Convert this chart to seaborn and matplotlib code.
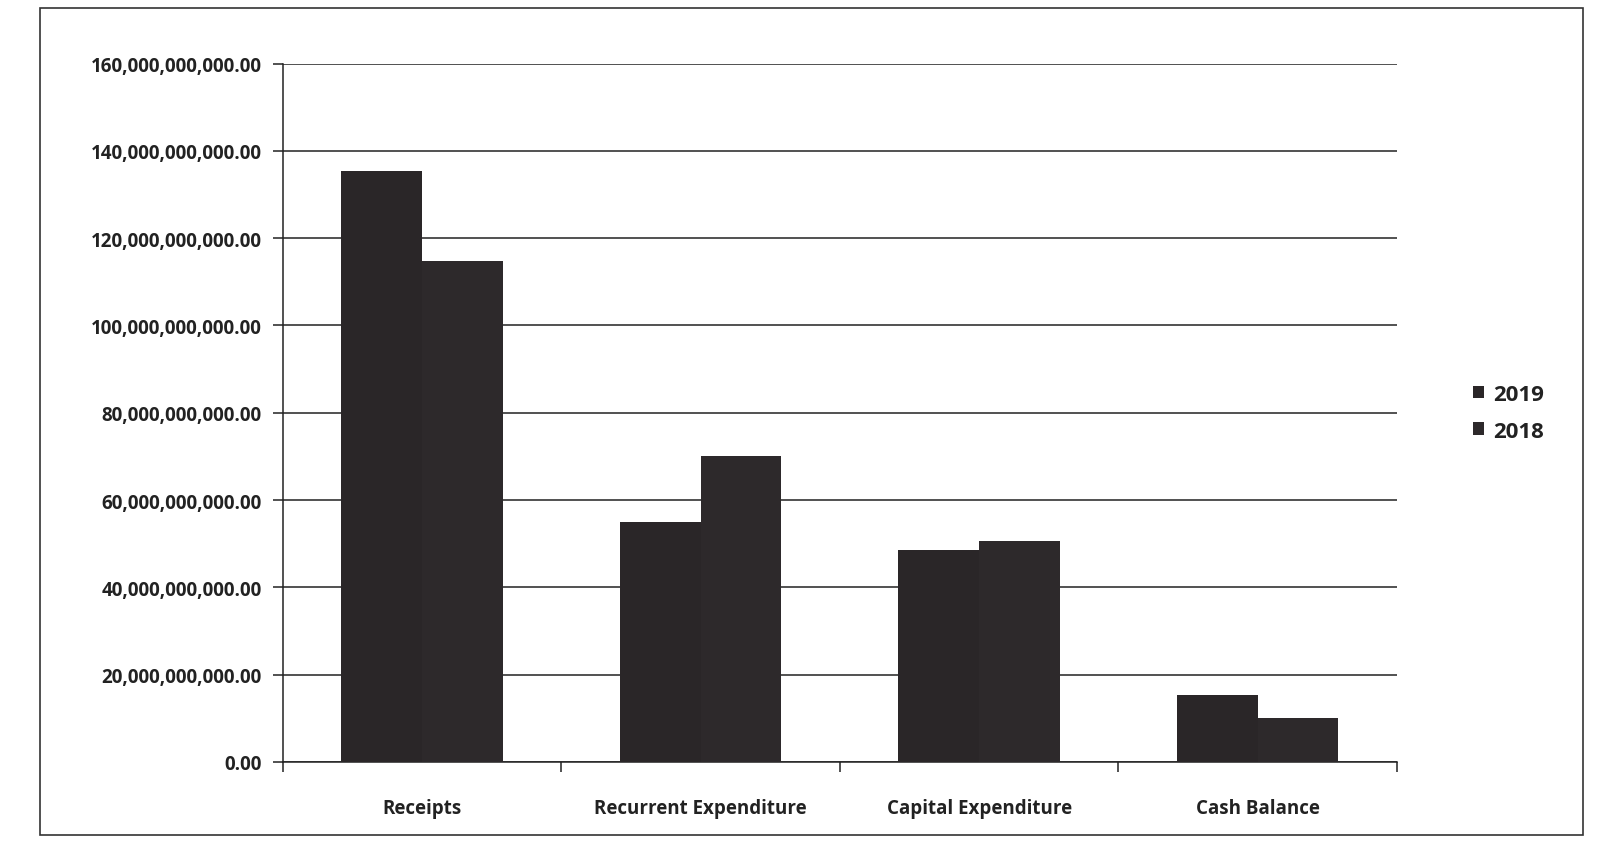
import matplotlib
matplotlib.use("Agg")
import matplotlib.pyplot as plt
import matplotlib.ticker as mticker
from matplotlib.patches import Rectangle
import seaborn as sns
import pandas as pd

categories = ["Receipts", "Recurrent Expenditure", "Capital Expenditure", "Cash Balance"]
values_2019 = [135.5e9, 55.0e9, 48.5e9, 15.3e9]
values_2018 = [114.7e9, 70.0e9, 50.7e9, 10.0e9]
series = ["2019", "2018"]
yticks = [0, 20e9, 40e9, 60e9, 80e9, 100e9, 120e9, 140e9, 160e9]

df = pd.DataFrame({
    "Category": categories * 2,
    "Value": values_2019 + values_2018,
    "Year": [series[0]] * len(categories) + [series[1]] * len(categories),
})

sns.set_theme(style="white")
plt.rcParams["font.family"] = ["Open Sans", "DejaVu Sans"]

fig = plt.figure(figsize=(16.15, 8.62), dpi=100)
ax = fig.add_axes([0.175, 0.115, 0.69, 0.81])

palette = {"2019": "#2a2628", "2018": "#2d292b"}
sns.barplot(data=df, x="Category", y="Value", hue="Year", hue_order=series,
            palette=palette, width=0.58, gap=0, saturation=1, ax=ax,
            edgecolor="none", linewidth=0, zorder=3)

ax.set_ylim(0, 160e9)
ax.set_yticks(yticks)
ax.yaxis.set_major_formatter(mticker.FuncFormatter(lambda v, p: f"{v:,.2f}"))
ax.grid(axis="y", color="#222222", linewidth=1.1, zorder=0)
ax.set_xlabel("")
ax.set_ylabel("")

for s in ["top", "right"]:
    ax.spines[s].set_visible(False)
for s in ["left", "bottom"]:
    ax.spines[s].set_color("#222222")
    ax.spines[s].set_linewidth(1.1)

ax.tick_params(axis="y", which="major", left=True, length=7, width=1.1,
               color="#222222", labelsize=13.5, pad=8)
ax.tick_params(axis="x", which="major", bottom=False, labelsize=13.5, pad=20)
ax.set_xticks([-0.5, 0.5, 1.5, 2.5, 3.5], minor=True)
ax.tick_params(axis="x", which="minor", bottom=True, length=7, width=1.1, color="#222222")
ax.set_xlim(-0.5, 3.5)
for lbl in ax.get_yticklabels() + ax.get_xticklabels():
    lbl.set_fontweight("bold")
    lbl.set_color("#222222")

leg = ax.legend(title=None, loc="center left", bbox_to_anchor=(1.05, 0.5),
                frameon=False, fontsize=16, handlelength=0.5, handleheight=0.5,
                handletextpad=0.4, labelspacing=0.7)
for t in leg.get_texts():
    t.set_fontweight("bold")
    t.set_color("#222222")

fig.patches.append(Rectangle((0.025, 0.03), 0.955, 0.96, transform=fig.transFigure,
                             fill=False, edgecolor="#333333", linewidth=1.2))

fig.savefig("out.png", dpi=100, facecolor="white")
